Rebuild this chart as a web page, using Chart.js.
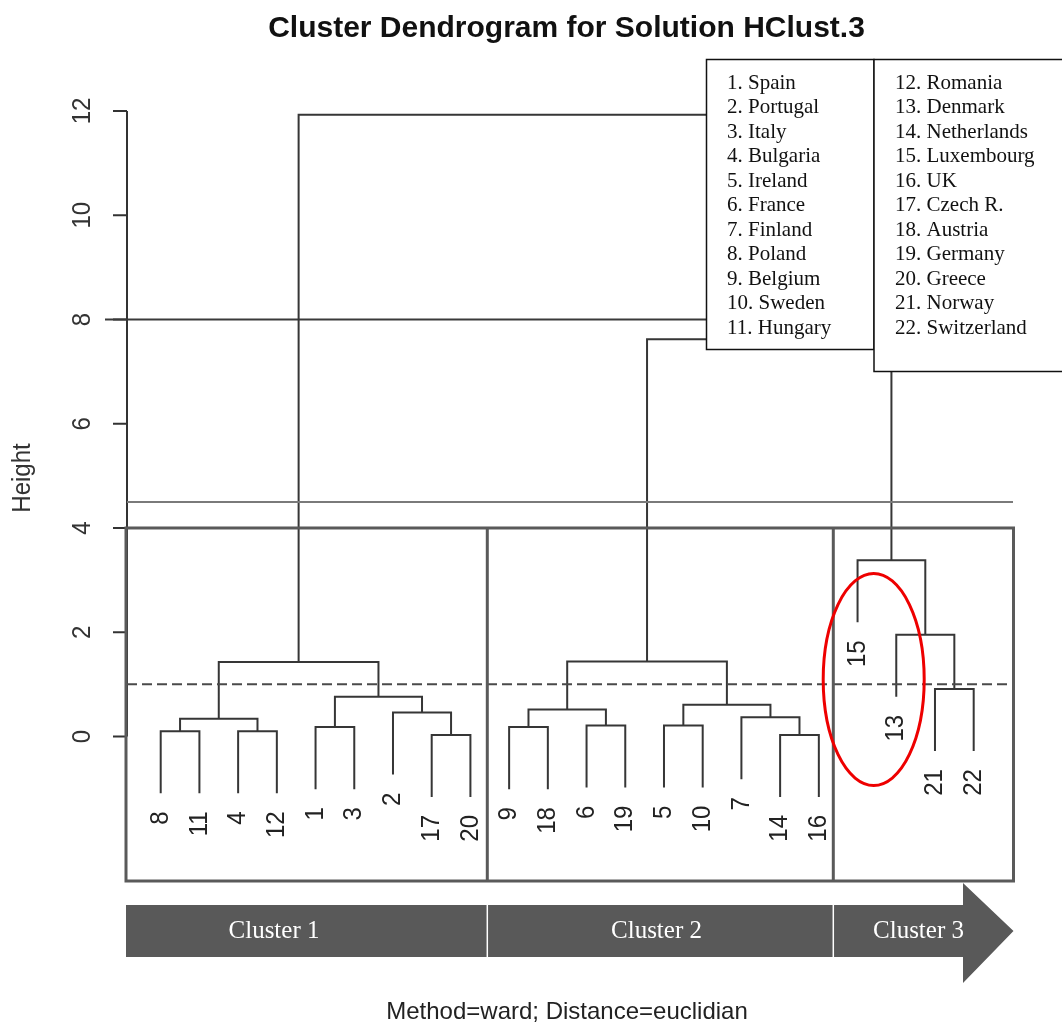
<!DOCTYPE html>
<html>
<head>
<meta charset="utf-8">
<script src="https://cdn.jsdelivr.net/npm/chart.js@4.4.1/dist/chart.umd.min.js"></script>
<style>
html, body { margin: 0; padding: 0; background: #fff; }
#wrap { width: 1062px; height: 1024px; position: relative; }
</style>
</head>
<body>
<div id="wrap"><canvas id="dendro"></canvas></div>
<script>
// leaves in plotting order (country numbers)
const leafOrder = [8, 11, 4, 12, 1, 3, 2, 17, 20, 9, 18, 6, 19, 5, 10, 7, 14, 16, 15, 13, 21, 22];

// merge table, R hclust style: negative = leaf, positive = earlier merge (1-based)
const mergeLeft   = [-17, -14, -8, -4, -1, -9, -6, -5, 3, -7, -2, 6, 8, 5, -21, 9, 12, -13, -15, 17, 16];
const mergeRight  = [-20, -16, -11, -12, -3, -18, -19, -10, 4, 2, 1, 7, 10, 11, -22, 14, 13, 15, 18, 19, 20];
const mergeHeight = [0.03, 0.03, 0.10, 0.10, 0.18, 0.18, 0.21, 0.21, 0.34, 0.37, 0.46, 0.52, 0.61, 0.76, 0.91, 1.43, 1.44, 1.95, 3.38, 7.62, 11.93];

const heightTicks = [0, 2, 4, 6, 8, 10, 12];
const hang = 1.19;
const cutHeight = 4.5;
const refHeight = 1;

const countriesA = ['1. Spain', '2. Portugal', '3. Italy', '4. Bulgaria', '5. Ireland', '6. France',
  '7. Finland', '8. Poland', '9. Belgium', '10. Sweden', '11. Hungary'];
const countriesB = ['12. Romania', '13. Denmark', '14. Netherlands', '15. Luxembourg', '16. UK',
  '17. Czech R.', '18. Austria', '19. Germany', '20. Greece', '21. Norway', '22. Switzerland'];
const clusterNames = ['Cluster 1', 'Cluster 2', 'Cluster 3'];

// x position of each merge = midpoint of its children
const mergeX = [];
function nodeX(k) { return k < 0 ? leafOrder.indexOf(-k) + 1 : mergeX[k - 1]; }
function nodeY(k, parentH) { return k < 0 ? parentH - hang : mergeHeight[k - 1]; }

const datasets = [];
for (let i = 0; i < mergeHeight.length; i++) {
  const a = mergeLeft[i], b = mergeRight[i], h = mergeHeight[i];
  const xa = nodeX(a), xb = nodeX(b);
  mergeX.push((xa + xb) / 2);
  datasets.push({
    data: [{x: xa, y: nodeY(a, h)}, {x: xa, y: h}, {x: xb, y: h}, {x: xb, y: nodeY(b, h)}],
    showLine: true,
    borderColor: '#363636',
    borderWidth: 2,
    pointRadius: 0,
    tension: 0
  });
}

// rotated text, slightly widened like the reference render
function upText(ctx, txt, x, y) {
  ctx.save();
  ctx.translate(x, y);
  ctx.rotate(-Math.PI / 2);
  ctx.scale(1, 1.08);
  ctx.fillText(txt, 0, 0);
  ctx.restore();
}

const decor = {
  id: 'decor',
  beforeDatasetsDraw(chart) {
    const ctx = chart.ctx, ys = chart.scales.y;
    ctx.save();
    // axis
    ctx.strokeStyle = '#333';
    ctx.lineWidth = 2;
    const ax = 127;
    ctx.beginPath();
    ctx.moveTo(ax, ys.getPixelForValue(heightTicks[heightTicks.length - 1]));
    ctx.lineTo(ax, ys.getPixelForValue(heightTicks[0]));
    heightTicks.forEach(t => {
      const y = ys.getPixelForValue(t);
      ctx.moveTo(113, y);
      ctx.lineTo(ax, y);
    });
    ctx.stroke();
    ctx.fillStyle = '#333';
    ctx.font = '24px "Liberation Sans", Arial, sans-serif';
    ctx.textAlign = 'center';
    ctx.textBaseline = 'middle';
    heightTicks.forEach(t => upText(ctx, String(t), 83, ys.getPixelForValue(t)));
    upText(ctx, 'Height', 23, 478);

    // stray line at 8
    ctx.strokeStyle = '#3a3a3a';
    ctx.lineWidth = 2;
    ctx.beginPath();
    ctx.moveTo(105, ys.getPixelForValue(8));
    ctx.lineTo(710, ys.getPixelForValue(8));
    ctx.stroke();
    ctx.restore();
  },
  afterDatasetsDraw(chart) {
    const ctx = chart.ctx, xs = chart.scales.x, ys = chart.scales.y;
    ctx.save();

    // leaf labels
    ctx.fillStyle = '#222';
    ctx.font = '24px "Liberation Sans", Arial, sans-serif';
    ctx.textAlign = 'right';
    ctx.textBaseline = 'middle';
    for (let i = 0; i < mergeHeight.length; i++) {
      [mergeLeft[i], mergeRight[i]].forEach(k => {
        if (k > 0) return;
        const px = xs.getPixelForValue(nodeX(k));
        const py = ys.getPixelForValue(mergeHeight[i] - hang);
        upText(ctx, String(-k), px, py + 18);
      });
    }

    // cut line at 4.5
    const left = 127, right = 1013;
    ctx.strokeStyle = '#7a7a7a';
    ctx.lineWidth = 2;
    ctx.beginPath();
    ctx.moveTo(left, ys.getPixelForValue(cutHeight));
    ctx.lineTo(right, ys.getPixelForValue(cutHeight));
    ctx.stroke();

    // dashed reference line
    ctx.strokeStyle = '#4a4a4a';
    ctx.setLineDash([10, 5]);
    ctx.beginPath();
    ctx.moveTo(left, ys.getPixelForValue(refHeight));
    ctx.lineTo(right, ys.getPixelForValue(refHeight));
    ctx.stroke();
    ctx.setLineDash([]);

    // cluster boxes
    const boxTop = ys.getPixelForValue(4), boxBottom = 881;
    const edges = [126, 487.3, 833.3, 1013.5];
    ctx.strokeStyle = '#5a5a5a';
    ctx.lineWidth = 3;
    ctx.strokeRect(edges[0], boxTop, edges[3] - edges[0], boxBottom - boxTop);
    ctx.beginPath();
    ctx.moveTo(edges[1], boxTop); ctx.lineTo(edges[1], boxBottom);
    ctx.moveTo(edges[2], boxTop); ctx.lineTo(edges[2], boxBottom);
    ctx.stroke();

    // red ellipse around 15 and 13
    ctx.strokeStyle = '#ee0000';
    ctx.lineWidth = 3;
    ctx.beginPath();
    ctx.ellipse(873.7, 679.5, 50.5, 106, 0, 0, Math.PI * 2);
    ctx.stroke();

    // legend boxes
    ctx.fillStyle = '#fff';
    ctx.strokeStyle = '#111';
    ctx.lineWidth = 1.5;
    ctx.fillRect(706.5, 59.5, 167.5, 290);
    ctx.strokeRect(706.5, 59.5, 167.5, 290);
    ctx.fillRect(874, 59.5, 200, 312);
    ctx.strokeRect(874, 59.5, 200, 312);
    ctx.fillStyle = '#111';
    ctx.font = '21px "Liberation Serif", "Times New Roman", serif';
    ctx.textAlign = 'left';
    ctx.textBaseline = 'middle';
    countriesA.forEach((t, i) => ctx.fillText(t, 727, 83 + i * 24.5));
    countriesB.forEach((t, i) => ctx.fillText(t, 895, 83 + i * 24.5));

    // cluster arrow
    ctx.fillStyle = '#595959';
    ctx.beginPath();
    ctx.moveTo(126, 905);
    ctx.lineTo(963, 905);
    ctx.lineTo(963, 883);
    ctx.lineTo(1013.5, 931);
    ctx.lineTo(963, 983);
    ctx.lineTo(963, 957);
    ctx.lineTo(126, 957);
    ctx.closePath();
    ctx.fill();
    ctx.strokeStyle = '#fff';
    ctx.lineWidth = 1.5;
    ctx.beginPath();
    ctx.moveTo(edges[1], 905); ctx.lineTo(edges[1], 957);
    ctx.moveTo(edges[2], 905); ctx.lineTo(edges[2], 957);
    ctx.stroke();
    ctx.fillStyle = '#fff';
    ctx.font = '25px "Liberation Serif", "Times New Roman", serif';
    ctx.textAlign = 'center';
    [274, 656.5, 918.5].forEach((cx, i) => ctx.fillText(clusterNames[i], cx, 931));

    // titles
    ctx.fillStyle = '#111';
    ctx.font = 'bold 30px "Liberation Sans", Arial, sans-serif';
    ctx.textBaseline = 'alphabetic';
    ctx.fillText('Cluster Dendrogram for Solution HClust.3', 566.5, 37);
    ctx.fillStyle = '#222';
    ctx.font = '24px "Liberation Sans", Arial, sans-serif';
    ctx.fillText('Method=ward; Distance=euclidian', 567, 1019);
    ctx.restore();
  }
};

new Chart(document.getElementById('dendro').getContext('2d'), {
  type: 'scatter',
  data: { datasets: datasets },
  options: {
    responsive: true,
    maintainAspectRatio: false,
    animation: false,
    layout: { padding: 0 },
    scales: {
      x: { type: 'linear', display: false, min: -3.151, max: 24.281 },
      y: { type: 'linear', display: false, min: -5.516, max: 14.1295 }
    },
    plugins: {
      legend: { display: false },
      tooltip: { enabled: false }
    }
  },
  plugins: [decor]
});
</script>
</body>
</html>
